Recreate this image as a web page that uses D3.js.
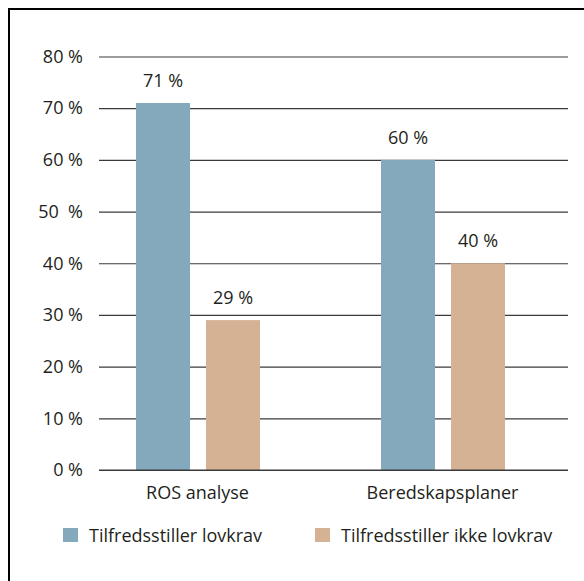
<!DOCTYPE html>
<meta charset="utf-8">
<style>
body { margin: 0; background: #fff; }
text { font-family: "Open Sans", "Noto Sans", sans-serif; fill: #231f20; white-space: pre; }
</style>
<svg></svg>
<script src="https://d3js.org/d3.v7.min.js"></script>
<script>

var width = 584,
    height = 581

// data
var categories = ['ROS analyse', 'Beredskapsplaner']
var seriesNames = ['Tilfredsstiller lovkrav', 'Tilfredsstiller ikke lovkrav']
var seriesColors = ['#84a8bc', '#d6b294']
var oppfyller = [71, 60]
var ikkeOppfyller = [29, 40]
var yTicks = [0, 10, 20, 30, 40, 50, 60, 70, 80]
var yTickLabels = ['0 %', '10 %', '20 %', '30 %', '40 %', '50  %', '60 %', '70 %', '80 %']

var fs = '18px'

var svg = d3.select('svg')
            .attr('width', width)
            .attr('height', height)

// frame, cut off at right/bottom like the original
svg.append('rect')
    .attr('x', 9).attr('y', 9)
    .attr('width', 620).attr('height', 620)
    .attr('fill', 'none')
    .attr('stroke', '#000')
    .attr('stroke-width', 2)

var y = d3.scaleLinear().domain([0, 80]).range([470, 56.5])
var x = d3.scaleBand().domain(categories).range([75, 565])
var xs = d3.scaleBand().domain([0, 1]).range([-62, 62]).paddingInner(0.2286)

// gridlines
var yAxis = d3.axisLeft(y)
    .tickValues(yTicks)
    .tickFormat((d, i) => yTickLabels[i])
    .tickSize(-469)
    .tickPadding(16)

var gY = svg.append('g')
    .attr('transform', 'translate(568,0)')
    .call(yAxis)
gY.select('.domain').remove()
gY.selectAll('.tick line')
    .attr('transform', 'translate(-469,0)')
    .attr('x1', 0).attr('x2', 469)
    .attr('stroke', '#3a3a3a')
    .attr('stroke-width', 1.2)
gY.selectAll('.tick text')
    .attr('x', -469 - 16)
    .style('font-size', fs)
    .style('font-family', '"Open Sans", sans-serif')
    .attr('fill', '#231f20')

var rows = []
categories.forEach(function (c, ci) {
    rows.push({cat: c, s: 0, v: oppfyller[ci]})
    rows.push({cat: c, s: 1, v: ikkeOppfyller[ci]})
})

var groups = svg.append('g')
    .attr('transform', 'translate(0.5,0)')

groups.selectAll('rect')
    .data(rows)
    .enter()
    .append('rect')
    .attr('x', (d) => x(d.cat) + x.bandwidth() / 2 + xs(d.s))
    .attr('y', (d) => y(d.v))
    .attr('width', xs.bandwidth())
    .attr('height', (d) => y(0) - y(d.v))
    .attr('fill', (d) => seriesColors[d.s])

groups.selectAll('text.val')
    .data(rows)
    .enter()
    .append('text')
    .attr('class', 'val')
    .attr('x', (d) => x(d.cat) + x.bandwidth() / 2 + xs(d.s) + xs.bandwidth() / 2)
    .attr('y', (d) => y(d.v) - 16)
    .attr('text-anchor', 'middle')
    .style('font-size', fs)
    .text((d) => d.v + ' %')

// baseline on top of bars
svg.append('line')
    .attr('x1', 99).attr('x2', 568)
    .attr('y1', y(0)).attr('y2', y(0))
    .attr('stroke', '#3a3a3a')
    .attr('stroke-width', 1.2)

var xAxis = d3.axisBottom(x).tickSize(0).tickPadding(16)
var gX = svg.append('g')
    .attr('transform', 'translate(0,' + y(0) + ')')
    .call(xAxis)
gX.select('.domain').remove()
gX.selectAll('text')
    .style('font-size', fs)
    .style('font-family', '"Open Sans", sans-serif')
    .attr('fill', '#231f20')

// legend
var legendX = [63, 315]
var legend = svg.selectAll('g.leg')
    .data(seriesNames)
    .enter()
    .append('g')
    .attr('class', 'leg')
    .attr('transform', (d, i) => 'translate(' + legendX[i] + ',528)')
legend.append('rect')
    .attr('width', 15).attr('height', 14)
    .attr('fill', (d, i) => seriesColors[i])
legend.append('text')
    .attr('x', 26).attr('y', 13.5)
    .style('font-size', fs)
    .text((d) => d)
</script>
